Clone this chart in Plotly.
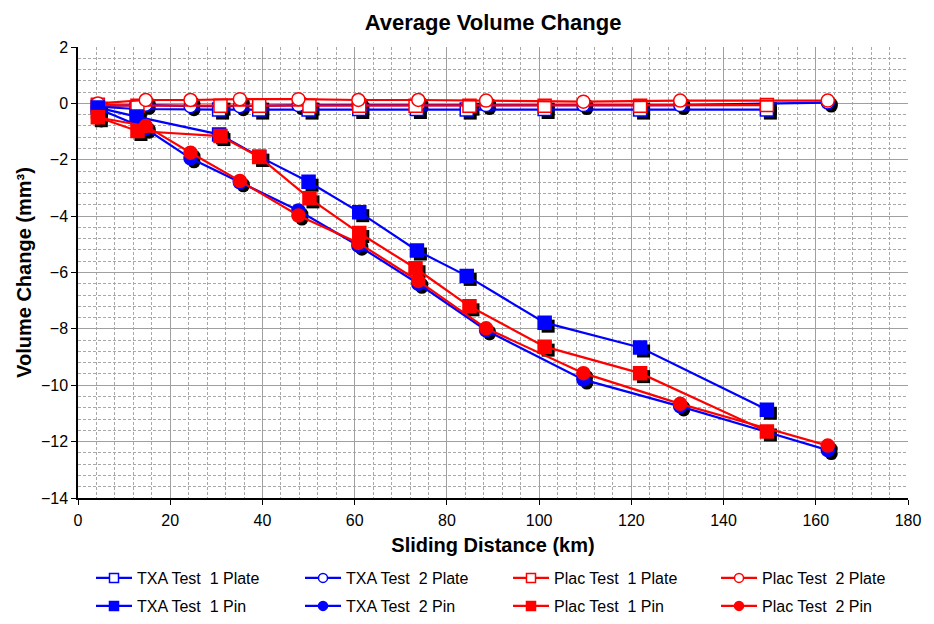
import plotly.graph_objects as go

# ---- data ----
x_sq_txa = [4.3, 12.7, 30.6, 39.3, 50.0, 61.0, 73.5, 84.3, 101.2, 121.9, 149.4]
x_sq_plac = [4.3, 12.9, 30.9, 39.3, 50.2, 61.0, 73.2, 84.9, 101.2, 121.9, 149.4]
x_circ = [4.3, 14.7, 24.4, 35.1, 47.8, 60.8, 73.8, 88.5, 109.6, 130.6, 162.6]

txa1_plate = [-0.12, -0.2, -0.22, -0.22, -0.22, -0.2, -0.2, -0.22, -0.2, -0.22, -0.22]
txa2_plate = [-0.1, -0.05, -0.1, -0.1, -0.06, -0.06, -0.06, -0.06, -0.06, -0.06, 0.03]
plac1_plate = [-0.05, -0.08, -0.08, -0.08, -0.08, -0.08, -0.08, -0.08, -0.08, -0.08, -0.06]
plac2_plate = [0.0, 0.12, 0.12, 0.15, 0.15, 0.12, 0.12, 0.1, 0.06, 0.1, 0.1]

txa1_pin = [-0.15, -0.47, -1.1, -1.89, -2.78, -3.86, -5.22, -6.12, -7.78, -8.66, -10.87]
txa2_pin = [-0.18, -0.9, -1.95, -2.8, -3.8, -5.05, -6.4, -8.05, -9.8, -10.75, -12.3]
plac1_pin = [-0.49, -0.98, -1.16, -1.9, -3.37, -4.6, -5.85, -7.2, -8.63, -9.57, -11.64]
plac2_pin = [-0.5, -0.8, -1.75, -2.75, -3.98, -4.95, -6.3, -7.98, -9.57, -10.66, -12.14]

series = [
    ("TXA Test  1 Plate", x_sq_txa, txa1_plate, "square", "#0000FF", "white"),
    ("TXA Test  2 Plate", x_circ, txa2_plate, "circle", "#0000FF", "white"),
    ("Plac Test  1 Plate", x_sq_plac, plac1_plate, "square", "#FF0000", "white"),
    ("Plac Test  2 Plate", x_circ, plac2_plate, "circle", "#FF0000", "white"),
    ("TXA Test  1 Pin", x_sq_txa, txa1_pin, "square", "#0000FF", "#0000FF"),
    ("TXA Test  2 Pin", x_circ, txa2_pin, "circle", "#0000FF", "#0000FF"),
    ("Plac Test  1 Pin", x_sq_plac, plac1_pin, "square", "#FF0000", "#FF0000"),
    ("Plac Test  2 Pin", x_circ, plac2_pin, "circle", "#FF0000", "#FF0000"),
]

# page body adds 8px around the figure
W, H = 926, 616
ML, MR, MT, MB = 70, 26, 39, 126
XR = [0, 180]
YR = [-14, 2]
px_x = (XR[1] - XR[0]) / (W - ML - MR)
px_y = (YR[1] - YR[0]) / (H - MT - MB)
sdx, sdy = 3.5 * px_x, -3.5 * px_y
MS = 13

fig = go.Figure()

# drop shadows
for name, xs, ys, sym, col, fill in series:
    fig.add_trace(go.Scatter(
        x=[v + sdx for v in xs], y=[v + sdy for v in ys], mode="markers",
        marker=dict(symbol=sym, size=MS, color="black"),
        showlegend=False, hoverinfo="skip"))

for name, xs, ys, sym, col, fill in series:
    fig.add_trace(go.Scatter(
        x=xs, y=ys, name=name, mode="lines+markers", showlegend=False,
        line=dict(color=col, width=2.2),
        marker=dict(symbol=sym, size=MS, color=fill, line=dict(color=col, width=1.5))))

# one small legend per entry: 4 columns x 2 rows, as in the reference
col_x = [88, 297, 505, 713]
row_y = [570, 598]
legends = {}
for i, (name, xs, ys, sym, col, fill) in enumerate(series):
    key = "legend" if i == 0 else f"legend{i + 1}"
    fig.add_trace(go.Scatter(
        x=[None], y=[None], name=name, mode="lines+markers", legend=key,
        line=dict(color=col, width=2.2),
        marker=dict(symbol=sym, size=9, color=fill, line=dict(color=col, width=1.5))))
    legends[key] = dict(
        orientation="h", xref="container", yref="container",
        x=(col_x[i % 4] - 5) / W, xanchor="left",
        y=1 - row_y[i // 4] / H, yanchor="middle",
        itemwidth=36, bgcolor="rgba(0,0,0,0)",
        font=dict(size=16, family="Liberation Sans, Arial"))

fig.update_layout(
    width=W, height=H,
    margin=dict(l=ML, r=MR, t=MT, b=MB, autoexpand=False),
    paper_bgcolor="white", plot_bgcolor="white",
    font=dict(family="Liberation Sans, Arial, sans-serif", color="black", size=15),
    title=dict(text="<b>Average Volume Change</b>", x=(ML + (W - ML - MR) / 2) / W,
               xanchor="center", y=1 - 14 / H, yanchor="middle",
               font=dict(size=22, family="Liberation Sans, Arial, sans-serif")),
    **legends,
)

fig.update_xaxes(
    range=XR, dtick=20, tick0=0,
    showline=True, linecolor="black", linewidth=1.5,
    ticks="outside", ticklen=5, tickcolor="black", ticklabelstandoff=2,
    showgrid=True, gridcolor="#a0a0a0", gridwidth=1,
    minor=dict(dtick=4, showgrid=True, gridcolor="#a8a8a8", griddash="3px,2px", gridwidth=1),
    zeroline=False,
    title=dict(text="<b>Sliding Distance (km)</b>", font=dict(size=20), standoff=10),
    tickfont=dict(size=16),
)
fig.update_yaxes(
    range=YR, dtick=2, tick0=0,
    showline=True, linecolor="black", linewidth=1.5,
    ticks="outside", ticklen=5, tickcolor="black",
    showgrid=True, gridcolor="#a0a0a0", gridwidth=1,
    minor=dict(dtick=0.4, showgrid=True, gridcolor="#a8a8a8", griddash="3px,2px", gridwidth=1),
    zeroline=False,
    title=dict(text="<b>Volume Change (mm³)</b>", font=dict(size=20), standoff=4),
    tickfont=dict(size=16),
)

fig.write_html("out.html")
